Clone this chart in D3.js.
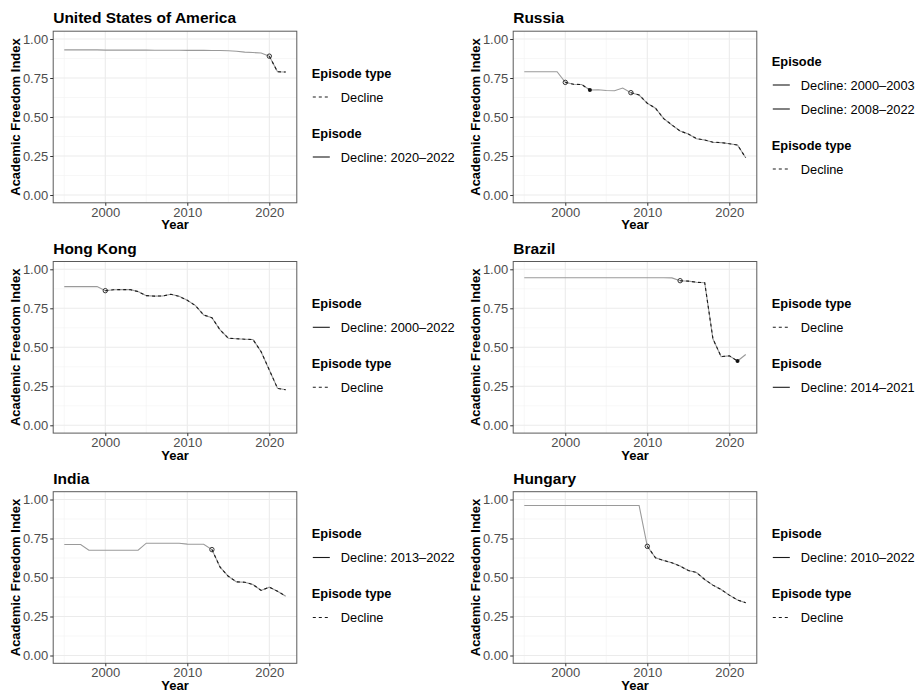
<!DOCTYPE html>
<html>
<head>
<meta charset="utf-8">
<script src="https://cdn.jsdelivr.net/npm/d3@7"></script>
<style>
  html, body { margin: 0; padding: 0; background: #fff; }
  svg { display: block; font-family: "Liberation Sans", Arial, Helvetica, sans-serif; }
</style>
</head>
<body>
<svg id="chart" width="920" height="692"></svg>
<script>
// Academic Freedom Index, 1995–2022, with decline episodes marked per country.
const years = [1995, 1996, 1997, 1998, 1999, 2000, 2001, 2002, 2003, 2004, 2005, 2006, 2007, 2008,
               2009, 2010, 2011, 2012, 2013, 2014, 2015, 2016, 2017, 2018, 2019, 2020, 2021, 2022];

const usaValues = [0.930, 0.930, 0.930, 0.930, 0.930, 0.929, 0.929, 0.929, 0.929, 0.929, 0.929, 0.928, 0.928, 0.928,
                   0.928, 0.927, 0.927, 0.927, 0.926, 0.926, 0.925, 0.921, 0.916, 0.913, 0.910, 0.890, 0.790, 0.788];
const russiaValues = [0.790, 0.790, 0.790, 0.790, 0.790, 0.722, 0.710, 0.708, 0.673, 0.675, 0.670, 0.668, 0.686, 0.656,
                      0.641, 0.588, 0.556, 0.490, 0.449, 0.410, 0.391, 0.361, 0.353, 0.338, 0.336, 0.329, 0.320, 0.239];
const hongKongValues = [0.889, 0.889, 0.889, 0.889, 0.889, 0.863, 0.869, 0.870, 0.870, 0.857, 0.831, 0.828, 0.829, 0.840,
                        0.827, 0.801, 0.767, 0.707, 0.690, 0.611, 0.558, 0.555, 0.552, 0.550, 0.472, 0.355, 0.237, 0.228];
const brazilValues = [0.946, 0.946, 0.946, 0.946, 0.946, 0.946, 0.946, 0.946, 0.946, 0.946, 0.946, 0.946, 0.946, 0.946,
                      0.946, 0.946, 0.946, 0.946, 0.945, 0.927, 0.924, 0.917, 0.914, 0.555, 0.440, 0.445, 0.412, 0.454];
const indiaValues = [0.712, 0.712, 0.712, 0.675, 0.675, 0.675, 0.675, 0.675, 0.675, 0.675, 0.720, 0.720, 0.720, 0.720,
                     0.720, 0.714, 0.713, 0.713, 0.679, 0.566, 0.508, 0.472, 0.470, 0.455, 0.417, 0.438, 0.412, 0.380];
const hungaryValues = [0.962, 0.962, 0.962, 0.962, 0.962, 0.962, 0.962, 0.962, 0.962, 0.962, 0.962, 0.962, 0.962, 0.962,
                       0.962, 0.700, 0.626, 0.609, 0.594, 0.573, 0.545, 0.532, 0.487, 0.451, 0.423, 0.387, 0.356, 0.338];

// Decline episodes: [start year, end year, episode closed before the last year]
const usaEpisodes = [[2020, 2022, false]];
const russiaEpisodes = [[2000, 2003, true], [2008, 2022, false]];
const hongKongEpisodes = [[2000, 2022, false]];
const brazilEpisodes = [[2014, 2021, true]];
const indiaEpisodes = [[2013, 2022, false]];
const hungaryEpisodes = [[2010, 2022, false]];

const countryNames = ["United States of America", "Russia", "Hong Kong", "Brazil", "India", "Hungary"];
const countryValues = [usaValues, russiaValues, hongKongValues, brazilValues, indiaValues, hungaryValues];
const countryEpisodes = [usaEpisodes, russiaEpisodes, hongKongEpisodes, brazilEpisodes, indiaEpisodes, hungaryEpisodes];
// Which legend block comes first in each panel
const legendOrders = [["type", "episode"], ["episode", "type"], ["episode", "type"],
                      ["type", "episode"], ["episode", "type"], ["episode", "type"]];

const yTicks = [0, 0.25, 0.5, 0.75, 1];
const yMinor = [0.125, 0.375, 0.625, 0.875];
const xTicks = [2000, 2010, 2020];
const xMinor = [1995, 2005, 2015];

const svg = d3.select("#chart");
const colX = [0, 460];
const rowY = [0, 230.3, 460.5];

const fmtY = d3.format(".2f");
const lineGray = "#9a9a9a";

countryNames.forEach((name, i) => {
  const ox = colX[i % 2], oy = rowY[Math.floor(i / 2)];
  const left = ox + 53.2, right = ox + 296.8, top = oy + 31.2, bottom = oy + 202.8;
  const vals = countryValues[i];
  const data = years.map((yr, k) => ({ year: yr, value: vals[k] }));

  const x = d3.scaleLinear().domain([1993.65, 2023.35]).range([left, right]);
  const y = d3.scaleLinear().domain([-0.05, 1.05]).range([bottom, top]);

  const g = svg.append("g");

  // panel background grid
  g.append("rect").attr("x", left).attr("y", top).attr("width", right - left).attr("height", bottom - top)
    .attr("fill", "#fff");
  g.selectAll(".ymin").data(yMinor).enter().append("line")
    .attr("x1", left).attr("x2", right).attr("y1", d => y(d)).attr("y2", d => y(d))
    .attr("stroke", "#f2f2f2").attr("stroke-width", 0.6);
  g.selectAll(".xmin").data(xMinor).enter().append("line")
    .attr("y1", top).attr("y2", bottom).attr("x1", d => x(d)).attr("x2", d => x(d))
    .attr("stroke", "#f2f2f2").attr("stroke-width", 0.6);
  g.selectAll(".ymaj").data(yTicks).enter().append("line")
    .attr("x1", left).attr("x2", right).attr("y1", d => y(d)).attr("y2", d => y(d))
    .attr("stroke", "#ebebeb").attr("stroke-width", 1.1);
  g.selectAll(".xmaj").data(xTicks).enter().append("line")
    .attr("y1", top).attr("y2", bottom).attr("x1", d => x(d)).attr("x2", d => x(d))
    .attr("stroke", "#ebebeb").attr("stroke-width", 1.1);

  // full series
  const line = d3.line().x(d => x(d.year)).y(d => y(d.value));
  g.append("path").datum(data).attr("d", line)
    .attr("fill", "none").attr("stroke", lineGray).attr("stroke-width", 1.1);

  // decline episodes, dashed
  countryEpisodes[i].forEach(ep => {
    const seg = data.filter(d => d.year >= ep[0] && d.year <= ep[1]);
    g.append("path").datum(seg).attr("d", line)
      .attr("fill", "none").attr("stroke", "#1a1a1a").attr("stroke-width", 1.1)
      .attr("stroke-dasharray", "3,3");
  });

  // episode start (open) and closed-episode end (filled) markers
  countryEpisodes[i].forEach(ep => {
    const s = data.find(d => d.year === ep[0]);
    g.append("circle").attr("cx", x(s.year)).attr("cy", y(s.value)).attr("r", 2.2)
      .attr("fill", "none").attr("stroke", "#333").attr("stroke-width", 1);
    if (ep[2]) {
      const e = data.find(d => d.year === ep[1]);
      g.append("circle").attr("cx", x(e.year)).attr("cy", y(e.value)).attr("r", 2)
        .attr("fill", "#111");
    }
  });

  // panel border
  g.append("rect").attr("x", left).attr("y", top).attr("width", right - left).attr("height", bottom - top)
    .attr("fill", "none").attr("stroke", "#5a5a5a").attr("stroke-width", 1);

  // axes
  const ax = g.append("g").attr("transform", `translate(0,${bottom})`)
    .call(d3.axisBottom(x).tickValues(xTicks).tickFormat(d3.format("d")).tickSize(3).tickPadding(1.5));
  const ay = g.append("g").attr("transform", `translate(${left},0)`)
    .call(d3.axisLeft(y).tickValues(yTicks).tickFormat(fmtY).tickSize(3).tickPadding(2));
  [ax, ay].forEach(a => {
    a.select(".domain").remove();
    a.selectAll(".tick line").attr("stroke", "#333");
    a.selectAll(".tick text").attr("fill", "#4d4d4d").style("font-size", "13px")
      .style("font-family", "'Liberation Sans', Arial, sans-serif");
  });

  // titles
  g.append("text").attr("x", left).attr("y", top - 8)
    .style("font-size", "15.5px").style("font-weight", "bold").attr("fill", "#000").text(name);
  g.append("text").attr("x", (left + right) / 2).attr("y", bottom + 26.5).attr("text-anchor", "middle")
    .style("font-size", "13px").style("font-weight", "bold").attr("fill", "#000").text("Year");
  g.append("text").attr("transform", `translate(${ox + 19.5},${(top + bottom) / 2}) rotate(-90)`)
    .attr("text-anchor", "middle")
    .style("font-size", "13px").style("font-weight", "bold").attr("fill", "#000").text("Academic Freedom Index");

  // legend
  const epLabels = countryEpisodes[i].map(ep => `Decline: ${ep[0]}–${ep[1]}`);
  const blocks = legendOrders[i].map(kind => kind === "type"
    ? { title: "Episode type", items: ["Decline"], dashed: true }
    : { title: "Episode", items: epLabels, dashed: false });
  // total height: each block = title + 24 per item, 36 between blocks
  let h = 0;
  blocks.forEach((b, bi) => { h += 24 * b.items.length; if (bi > 0) h += 36; });
  const lx = right + 15;
  let cy = (top + bottom) / 2 - 2 - h / 2;
  const lg = g.append("g");
  blocks.forEach((b, bi) => {
    if (bi > 0) cy += 36;
    lg.append("text").attr("x", lx).attr("y", cy).attr("dy", "0.36em")
      .style("font-size", "12.8px").style("font-weight", "bold").attr("fill", "#000").text(b.title);
    b.items.forEach(it => {
      cy += 24;
      lg.append("line").attr("x1", lx + 1).attr("x2", lx + 18).attr("y1", cy).attr("y2", cy)
        .attr("stroke", "#1a1a1a").attr("stroke-width", 1.1)
        .attr("stroke-dasharray", b.dashed ? "3,3" : null);
      lg.append("text").attr("x", lx + 29).attr("y", cy).attr("dy", "0.36em")
        .style("font-size", "12.8px").attr("fill", "#000").text(it);
    });
  });
});
</script>
</body>
</html>
